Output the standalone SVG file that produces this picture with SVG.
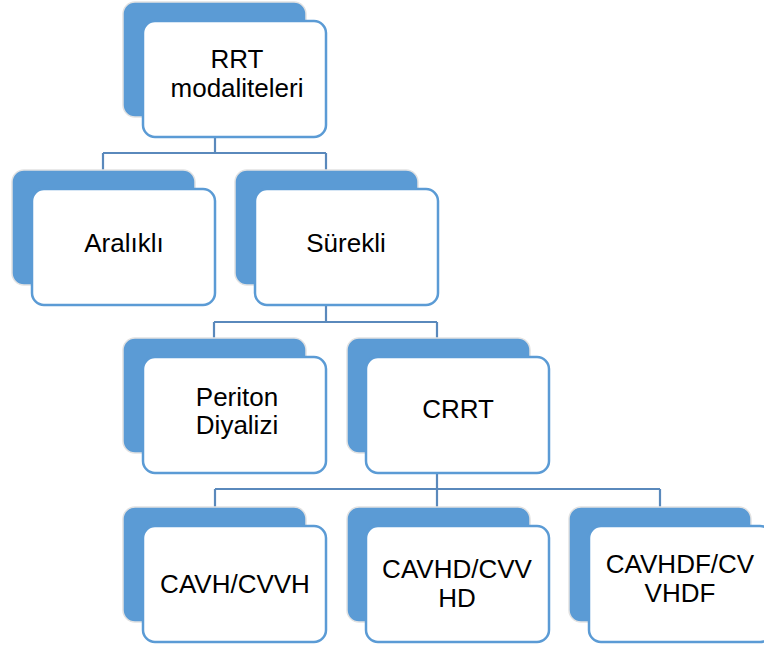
<svg xmlns="http://www.w3.org/2000/svg" width="764" height="648" viewBox="0 0 764 648">
<style>
.back{fill:#5B9BD5;stroke:#E2E2E2;stroke-width:1.5}
.front{fill:#FFFFFF;stroke:#5B9BD5;stroke-width:2.5}
.conn{fill:none;stroke:#5A89BC;stroke-width:2.2}
text{font-family:"Liberation Sans",Arial,sans-serif;font-size:26px;fill:#000;text-anchor:middle}
</style>
<rect width="764" height="648" fill="#FFFFFF"/>
<g id="connectors">
<path class="conn" d="M215,137V153M103,153H326M103,153V170M326,153V170"/>
<path class="conn" d="M326,305V322M214,322H437M214,322V338M437,322V338"/>
<path class="conn" d="M437,473V489M215,489H660M215,489V507M437,489V507M660,489V507"/>
</g>
<g id="root">
<rect class="back" x="123" y="2" width="183" height="115" rx="12"/>
<rect class="front" x="143" y="21" width="183" height="116" rx="12"/>
<text x="237" y="68">RRT</text>
<text x="237" y="97">modaliteleri</text>
</g>
<g id="aralikli">
<rect class="back" x="12" y="170" width="183" height="115" rx="12"/>
<rect class="front" x="32" y="189" width="183" height="116" rx="12"/>
<text x="124" y="252">Aralıklı</text>
</g>
<g id="surekli">
<rect class="back" x="235" y="170" width="183" height="115" rx="12"/>
<rect class="front" x="255" y="189" width="183" height="116" rx="12"/>
<text x="346" y="252">Sürekli</text>
</g>
<g id="periton">
<rect class="back" x="123" y="338" width="183" height="115" rx="12"/>
<rect class="front" x="143" y="357" width="183" height="116" rx="12"/>
<text x="237" y="406">Periton</text>
<text x="237" y="434">Diyalizi</text>
</g>
<g id="crrt">
<rect class="back" x="347" y="338" width="183" height="115" rx="12"/>
<rect class="front" x="366" y="357" width="183" height="116" rx="12"/>
<text x="458" y="418">CRRT</text>
</g>
<g id="cavh">
<rect class="back" x="123" y="507" width="183" height="115" rx="12"/>
<rect class="front" x="143" y="526" width="183" height="116" rx="12"/>
<text x="235" y="593">CAVH/CVVH</text>
</g>
<g id="cavhd">
<rect class="back" x="347" y="507" width="183" height="115" rx="12"/>
<rect class="front" x="366" y="526" width="183" height="116" rx="12"/>
<text x="457" y="578">CAVHD/CVV</text>
<text x="457" y="607">HD</text>
</g>
<g id="cavhdf">
<rect class="back" x="569" y="507" width="182" height="115" rx="12"/>
<rect class="front" x="589" y="526" width="183" height="116" rx="12"/>
<text x="680" y="573">CAVHDF/CV</text>
<text x="680" y="602">VHDF</text>
</g>
</svg>
